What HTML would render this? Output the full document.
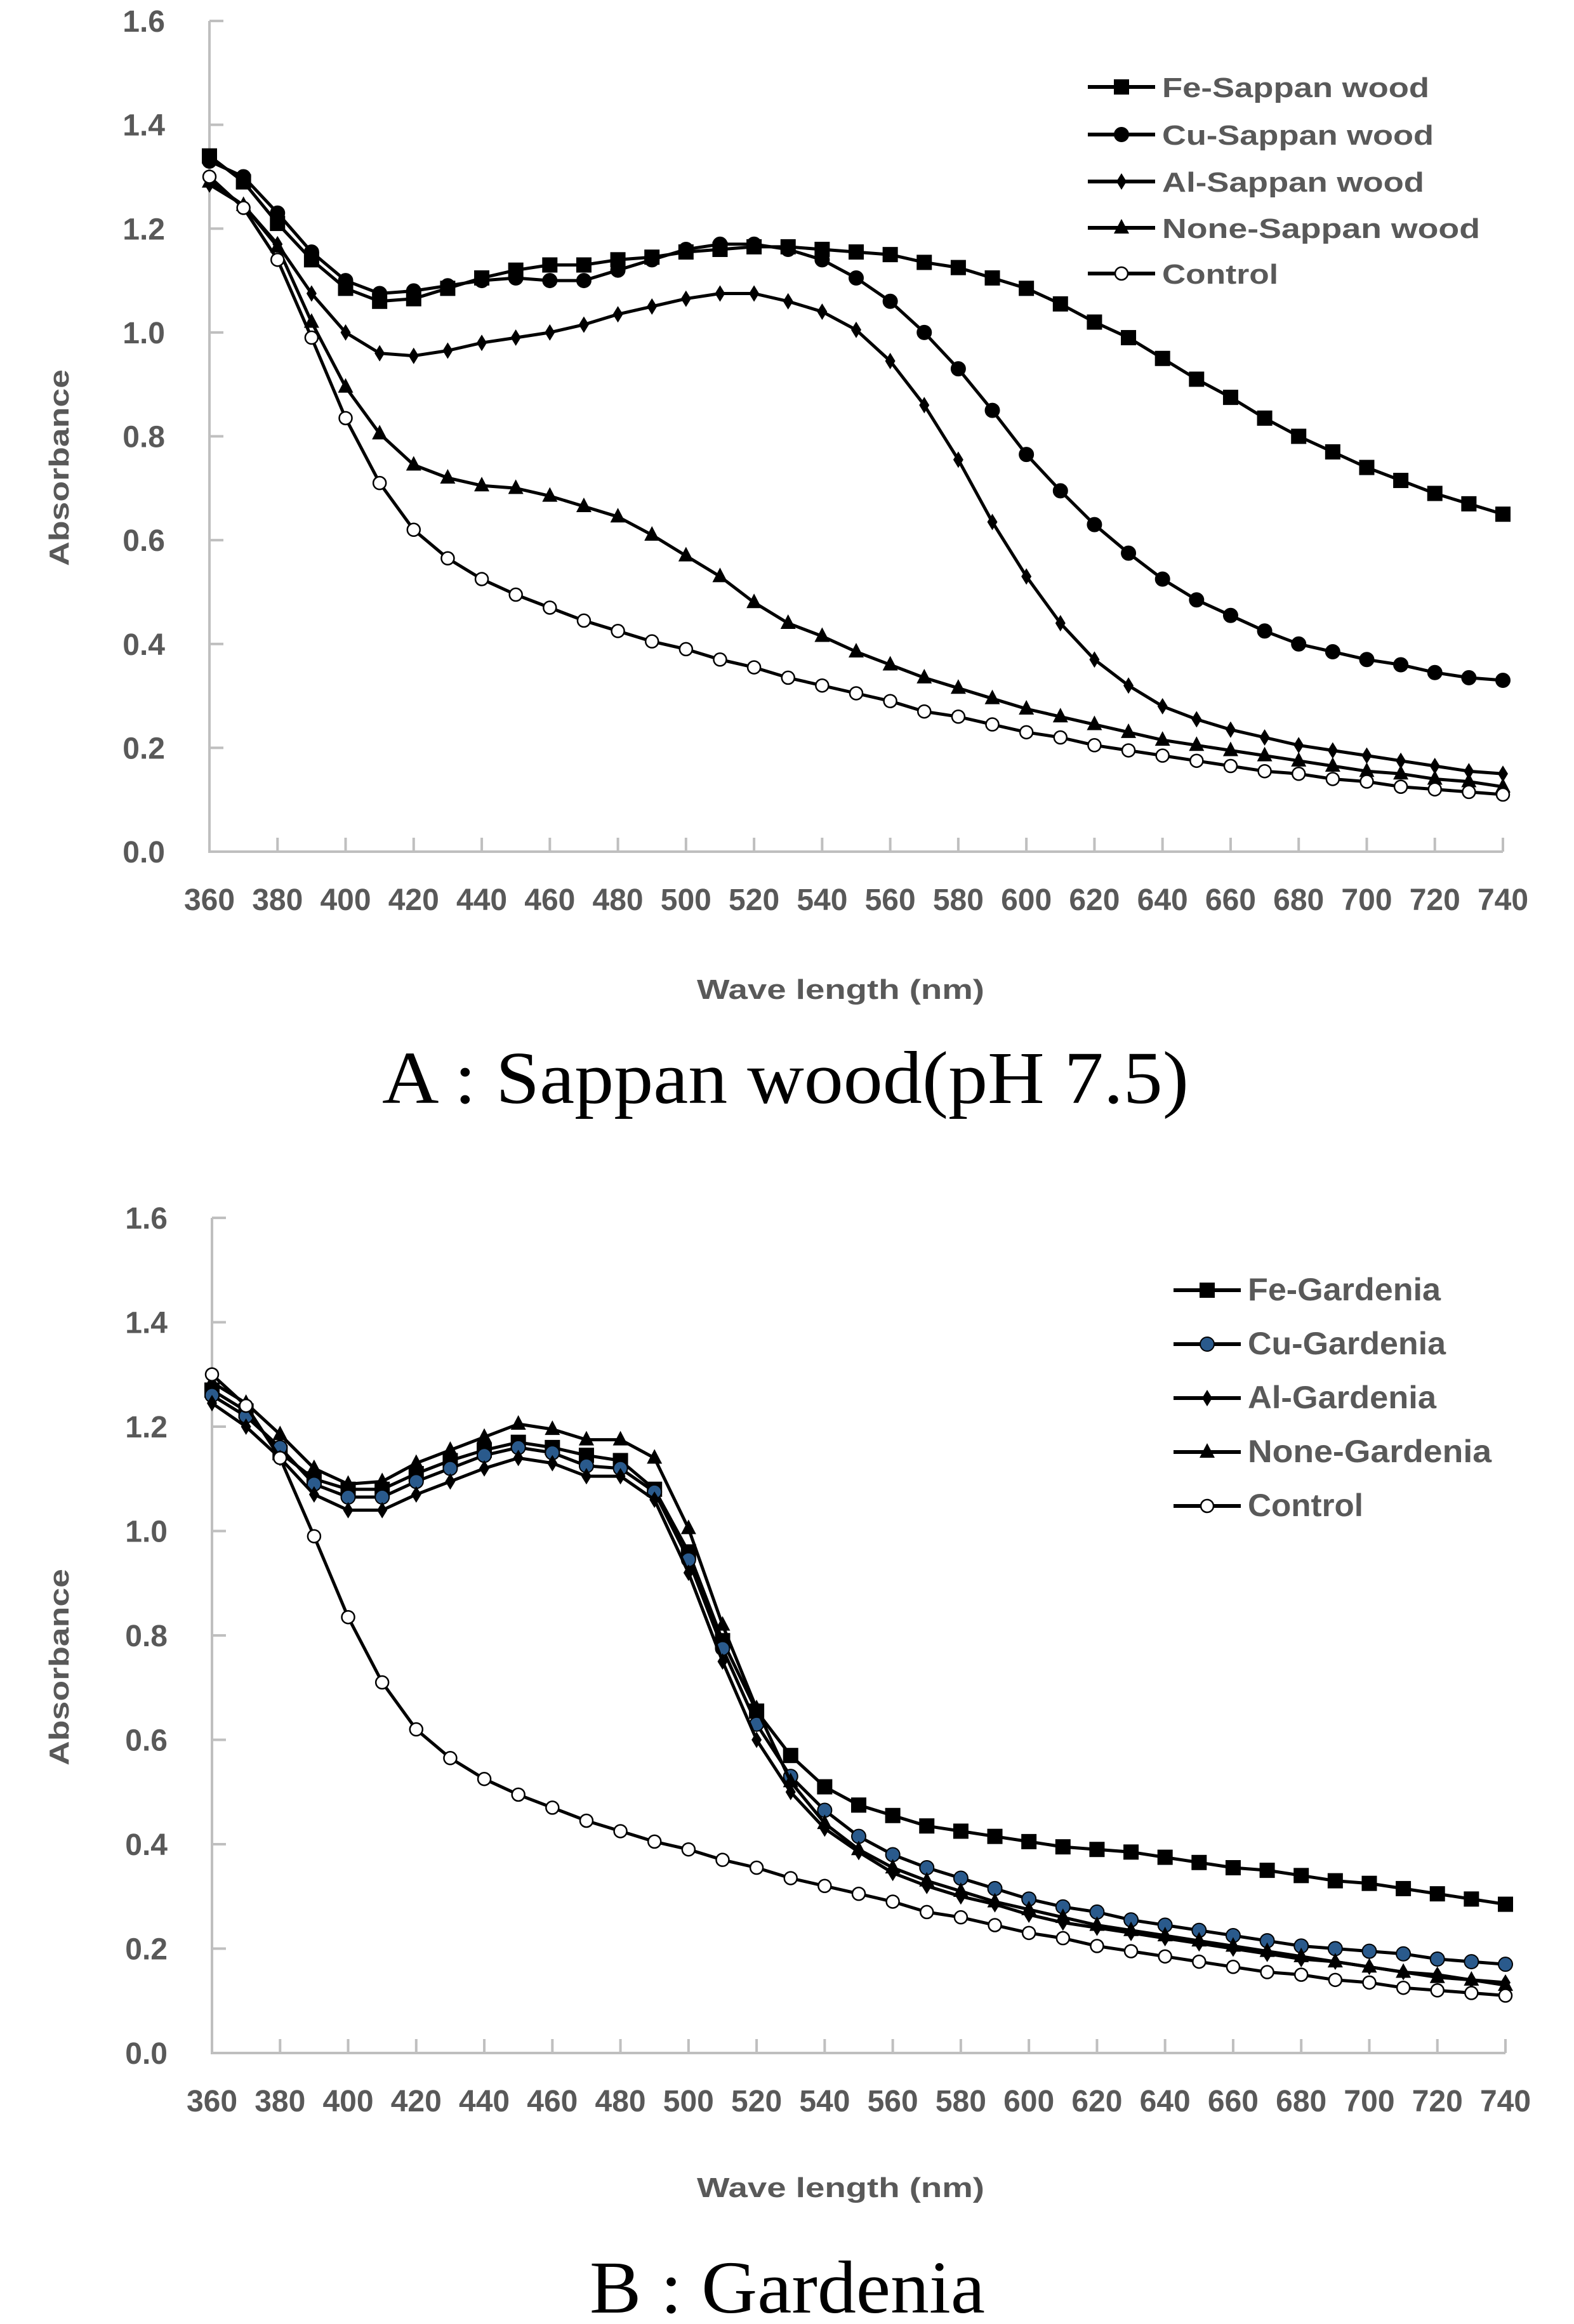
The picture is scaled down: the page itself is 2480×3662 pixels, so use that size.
<!DOCTYPE html>
<html><head><meta charset="utf-8"><style>
html,body{margin:0;padding:0;background:#fff;}
svg{display:block;}
.tick{font-family:"Liberation Sans",sans-serif;font-weight:bold;font-size:48px;fill:#595959;}
.ttl{font-family:"Liberation Sans",sans-serif;font-weight:bold;font-size:44px;fill:#595959;}
.leg{font-family:"Liberation Sans",sans-serif;font-weight:bold;fill:#595959;}
.cap{font-family:"Liberation Serif",serif;font-size:118px;fill:#000;}
</style></head><body>
<svg id="fig" width="2480" height="3662" viewBox="0 0 2480 3662" xmlns="http://www.w3.org/2000/svg">
<rect width="2480" height="3662" fill="#fff"/>
<text class="cap" x="602" y="1738" textLength="1271" lengthAdjust="spacingAndGlyphs">A  :  Sappan  wood(pH  7.5)</text>
<text class="cap" x="929" y="3644" textLength="623" lengthAdjust="spacingAndGlyphs">B  :  Gardenia</text>
</svg>
<script>
const wavelengths=[360,370,380,390,400,410,420,430,440,450,460,470,480,490,500,510,520,530,540,550,560,570,580,590,600,610,620,630,640,650,660,670,680,690,700,710,720,730,740];
const xTickLabels=[360,380,400,420,440,460,480,500,520,540,560,580,600,620,640,660,680,700,720,740];
const yTickLabels=["0.0","0.2","0.4","0.6","0.8","1.0","1.2","1.4","1.6"];
const feSappan=[1.34,1.29,1.21,1.14,1.085,1.06,1.065,1.085,1.105,1.12,1.13,1.13,1.14,1.145,1.155,1.16,1.165,1.165,1.16,1.155,1.15,1.135,1.125,1.105,1.085,1.055,1.02,0.99,0.95,0.91,0.875,0.835,0.80,0.77,0.74,0.715,0.69,0.67,0.65];
const cuSappan=[1.33,1.30,1.23,1.155,1.10,1.075,1.08,1.09,1.10,1.105,1.10,1.10,1.12,1.14,1.16,1.17,1.17,1.16,1.14,1.105,1.06,1.00,0.93,0.85,0.765,0.695,0.63,0.575,0.525,0.485,0.455,0.425,0.40,0.385,0.37,0.36,0.345,0.335,0.33];
const alSappan=[1.285,1.245,1.17,1.075,1.00,0.96,0.955,0.965,0.98,0.99,1.00,1.015,1.035,1.05,1.065,1.075,1.075,1.06,1.04,1.005,0.945,0.86,0.755,0.635,0.53,0.44,0.37,0.32,0.28,0.255,0.235,0.22,0.205,0.195,0.185,0.175,0.165,0.155,0.15];
const noneSappan=[1.29,1.245,1.165,1.02,0.895,0.805,0.745,0.72,0.705,0.70,0.685,0.665,0.645,0.61,0.57,0.53,0.48,0.44,0.415,0.385,0.36,0.335,0.315,0.295,0.275,0.26,0.245,0.23,0.215,0.205,0.195,0.185,0.175,0.165,0.155,0.15,0.14,0.135,0.125];
const controlSappan=[1.30,1.24,1.14,0.99,0.835,0.71,0.62,0.565,0.525,0.495,0.47,0.445,0.425,0.405,0.39,0.37,0.355,0.335,0.32,0.305,0.29,0.27,0.26,0.245,0.23,0.22,0.205,0.195,0.185,0.175,0.165,0.155,0.15,0.14,0.135,0.125,0.12,0.115,0.11];
const feGardenia=[1.27,1.23,1.15,1.10,1.08,1.08,1.11,1.135,1.155,1.17,1.16,1.145,1.135,1.08,0.96,0.79,0.655,0.57,0.51,0.475,0.455,0.435,0.425,0.415,0.405,0.395,0.39,0.385,0.375,0.365,0.355,0.35,0.34,0.33,0.325,0.315,0.305,0.295,0.285];
const cuGardenia=[1.26,1.22,1.16,1.09,1.065,1.065,1.095,1.12,1.145,1.16,1.15,1.125,1.12,1.075,0.945,0.775,0.63,0.53,0.465,0.415,0.38,0.355,0.335,0.315,0.295,0.28,0.27,0.255,0.245,0.235,0.225,0.215,0.205,0.2,0.195,0.19,0.18,0.175,0.17];
const alGardenia=[1.245,1.20,1.14,1.07,1.04,1.04,1.07,1.095,1.12,1.14,1.13,1.105,1.105,1.06,0.92,0.75,0.60,0.50,0.43,0.385,0.345,0.32,0.30,0.285,0.265,0.25,0.24,0.23,0.22,0.21,0.2,0.19,0.18,0.175,0.165,0.155,0.15,0.14,0.135];
const noneGardenia=[1.285,1.245,1.185,1.12,1.09,1.095,1.13,1.155,1.18,1.205,1.195,1.175,1.175,1.14,1.005,0.82,0.66,0.52,0.44,0.39,0.355,0.33,0.31,0.29,0.275,0.26,0.245,0.235,0.225,0.215,0.205,0.195,0.185,0.175,0.165,0.155,0.145,0.14,0.13];
const controlGardenia=[1.30,1.24,1.14,0.99,0.835,0.71,0.62,0.565,0.525,0.495,0.47,0.445,0.425,0.405,0.39,0.37,0.355,0.335,0.32,0.305,0.29,0.27,0.26,0.245,0.23,0.22,0.205,0.195,0.185,0.175,0.165,0.155,0.15,0.14,0.135,0.125,0.12,0.115,0.11];
const sappanNames=["Fe-Sappan wood","Cu-Sappan wood","Al-Sappan wood","None-Sappan wood","Control"];
const gardeniaNames=["Fe-Gardenia","Cu-Gardenia","Al-Gardenia","None-Gardenia","Control"];

const NS="http://www.w3.org/2000/svg";
const svg=document.getElementById('fig');
function mk(tag,attrs,parent){const e=document.createElementNS(NS,tag);for(const k in attrs)e.setAttribute(k,attrs[k]);(parent||svg).appendChild(e);return e;}

function marker(g,type,cx,cy,fill){
  let m;
  if(type==='square'){m=mk('rect',{x:cx-12,y:cy-12,width:24,height:24,fill:'#000'},g);}
  else if(type==='circle'){m=mk('circle',{cx:cx,cy:cy,r:11,fill:fill||'#000',stroke:'#000','stroke-width':2},g);}
  else if(type==='diamond'){m=mk('polygon',{points:`${cx},${cy-13} ${cx+8},${cy} ${cx},${cy+13} ${cx-8},${cy}`,fill:'#000'},g);}
  else if(type==='triangle'){m=mk('polygon',{points:`${cx},${cy-14} ${cx+12},${cy+9} ${cx-12},${cy+9}`,fill:'#000'},g);}
  else {m=mk('circle',{cx:cx,cy:cy,r:10,fill:'#fff',stroke:'#000','stroke-width':2.5},g);}
  
  
}

function chart(cfg){
  const {x0,x1,y0,y1,series,names,types,fills,legX,legBase,legSize,legW,titleX,titleY,absY,prefix}=cfg;
  const sx=v=>x0+(v-360)/(740-360)*(x1-x0);
  const sy=v=>y0-(v/1.6)*(y0-y1);
  const g=mk('g',{});
  
  
  const ax=mk('path',{d:`M${x0},${y1} V${y0} H${x1}`,fill:'none',stroke:'#bfbfbf','stroke-width':4},g);
  
  
  yTickLabels.forEach(l=>{
    const v=parseFloat(l),y=sy(v);
    const t=mk('line',{x1:x0,x2:x0+22,y1:y,y2:y,stroke:'#bfbfbf','stroke-width':4},g);
    
    
    const tx=mk('text',{x:x0-70,y:y+17,'text-anchor':'end',class:'tick'},g);tx.textContent=l;
    
    
  });
  xTickLabels.forEach(v=>{
    const x=sx(v);
    const t=mk('line',{x1:x,x2:x,y1:y0,y2:y0-22,stroke:'#bfbfbf','stroke-width':4},g);
    
    
    const tx=mk('text',{x:x,y:y0+92,'text-anchor':'middle',class:'tick'},g);tx.textContent=v;
    
    
  });
  const xt=mk('text',{x:titleX,y:titleY,class:'ttl',textLength:453,lengthAdjust:'spacingAndGlyphs'},g);xt.textContent='Wave length (nm)';
  
  
  const yt=mk('text',{x:0,y:0,class:'ttl','text-anchor':'middle',transform:`translate(108,${absY}) rotate(-90)`,textLength:310,lengthAdjust:'spacingAndGlyphs'},g);yt.textContent='Absorbance';
  
  
  series.forEach((vals,i)=>{
    const sg=mk('g',{},g);
    
    
    const d=vals.map((v,j)=>(j?'L':'M')+sx(wavelengths[j]).toFixed(1)+','+sy(v).toFixed(1)).join(' ');
    const p=mk('path',{d:d,fill:'none',stroke:'#000','stroke-width':5,'stroke-linejoin':'round'},sg);
    
    
    vals.forEach((v,j)=>marker(sg,types[i],sx(wavelengths[j]),sy(v),fills[i]));
  });
  names.forEach((n,i)=>{
    const lg=mk('g',{},g);
    
    
    const ly=legBase[i]-16;
    mk('line',{x1:legX-117,x2:legX-11,y1:ly,y2:ly,stroke:'#000','stroke-width':6},lg);
    marker(lg,types[i],legX-64,ly,fills[i]);
    const t=mk('text',{x:legX,y:legBase[i],class:'leg','font-size':legSize,textLength:legW[i],lengthAdjust:'spacingAndGlyphs'},lg);
    t.textContent=n;
    
    
  });
}
chart({x0:330,x1:2368,y0:1342,y1:33,series:[feSappan,cuSappan,alSappan,noneSappan,controlSappan],names:sappanNames,
  types:['square','circle','diamond','triangle','open'],fills:['#000','#000','#000','#000','#fff'],
  legX:1831,legBase:[153,228,302,375,447],legSize:44,legW:[421,428,413,501,183],titleX:1098,titleY:1574,absY:737,prefix:'sappan'});
chart({x0:334,x1:2372,y0:3235,y1:1919,series:[feGardenia,cuGardenia,alGardenia,noneGardenia,controlGardenia],names:gardeniaNames,
  types:['square','circle','diamond','triangle','open'],fills:['#000','#2a5a8c','#000','#000','#fff'],
  legX:1966,legBase:[2049,2134,2219,2304,2389],legSize:50,legW:[304,312,297,384,182],titleX:1098,titleY:3462,absY:2627,prefix:'gardenia'});
</script>
</body></html>
